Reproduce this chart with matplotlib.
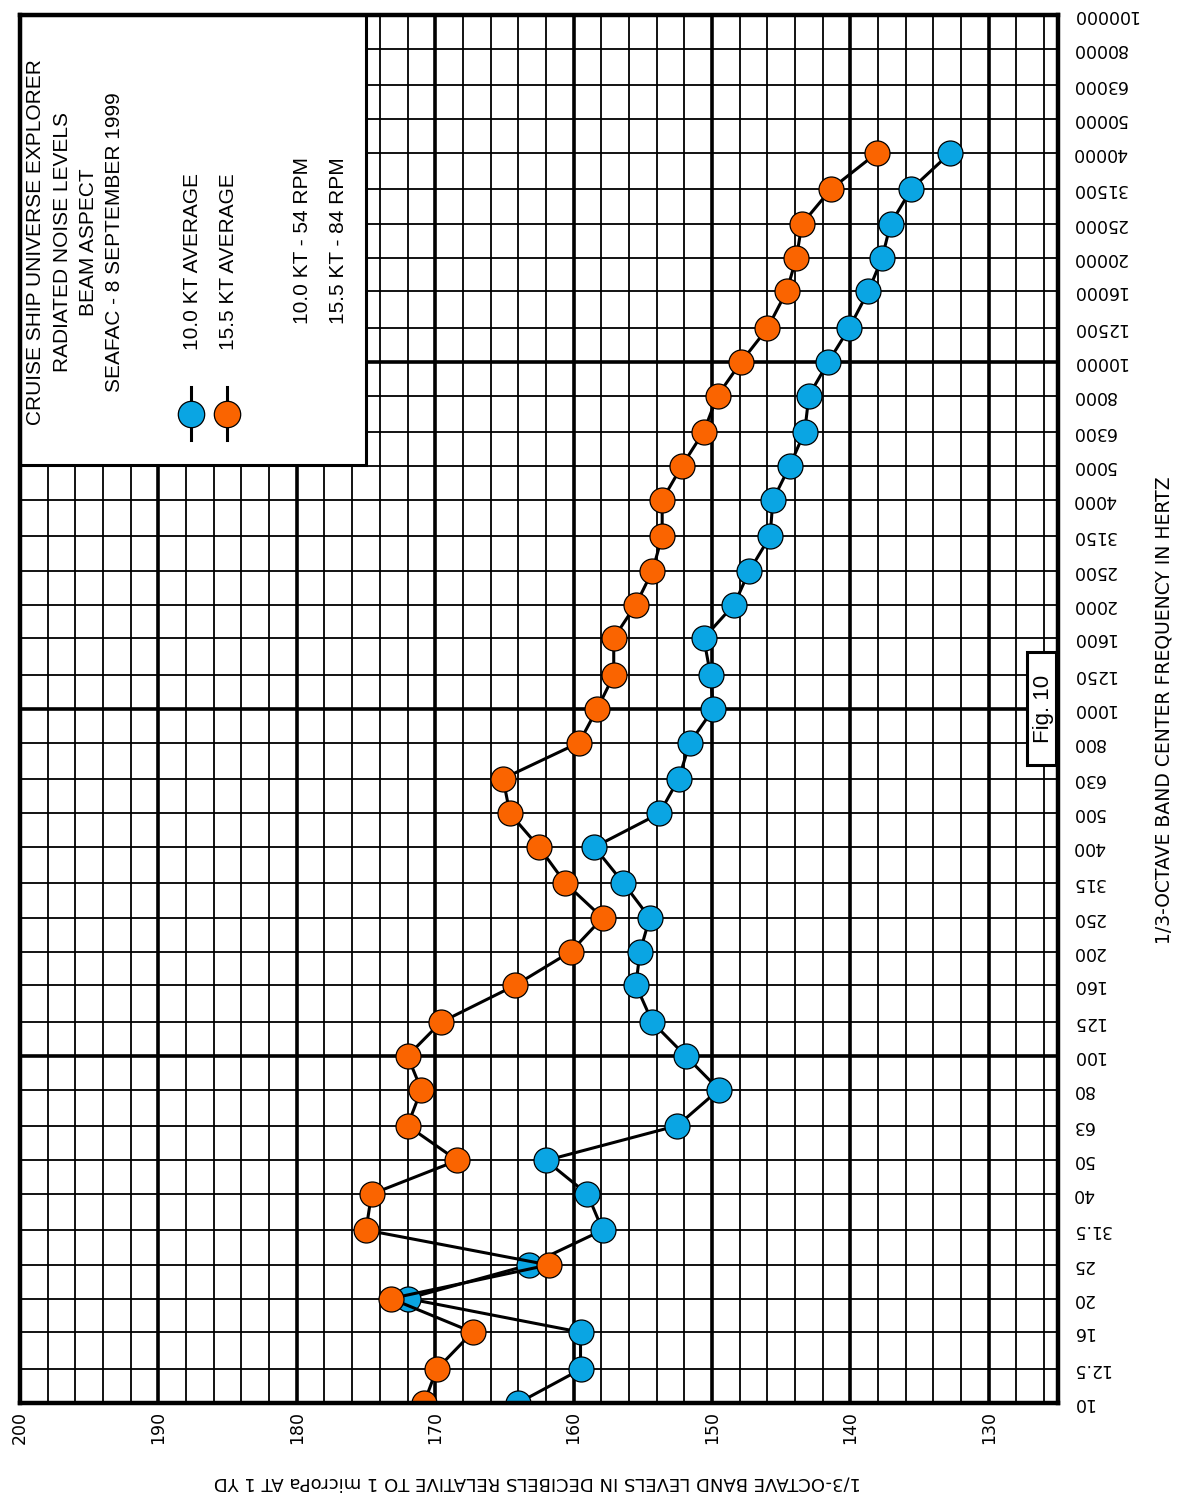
import matplotlib
matplotlib.use("Agg")
import matplotlib.pyplot as plt
from matplotlib.patches import Rectangle
from matplotlib.lines import Line2D

plt.rcParams['font.family'] = ['Liberation Sans', 'DejaVu Sans']

# 1/3-octave band centre frequencies (Hz)
band_labels = ['10', '12.5', '16', '20', '25', '31.5', '40', '50', '63', '80',
               '100', '125', '160', '200', '250', '315', '400', '500', '630', '800',
               '1000', '1250', '1600', '2000', '2500', '3150', '4000', '5000', '6300', '8000',
               '10000', '12500', '16000', '20000', '25000', '31500', '40000', '50000', '63000', '80000',
               '100000']
band_freqs = [float(s) for s in band_labels]

# Measured band levels, dB re 1 microPa at 1 yd (10 Hz ... 40 kHz)
level_10kt = [164.0, 159.5, 159.5, 172.0, 163.2, 157.9, 159.0, 162.0, 152.5, 149.5,
              151.9, 154.3, 155.5, 155.2, 154.5, 156.4, 158.5, 153.8, 152.4, 151.6,
              149.9, 150.1, 150.6, 148.4, 147.3, 145.8, 145.6, 144.4, 143.3, 143.0,
              141.6, 140.1, 138.7, 137.7, 137.1, 135.6, 132.8]
level_155kt = [170.8, 169.9, 167.3, 173.2, 161.8, 175.0, 174.6, 168.4, 172.0, 171.0,
               172.0, 169.6, 164.2, 160.2, 157.9, 160.6, 162.5, 164.6, 165.1, 159.6,
               158.3, 157.1, 157.1, 155.5, 154.3, 153.6, 153.6, 152.2, 150.6, 149.6,
               147.9, 146.0, 144.6, 143.9, 143.5, 141.4, 138.1]

db_ticks = [200, 190, 180, 170, 160, 150, 140, 130]

W, H = 1178, 1501
fig = plt.figure(figsize=(W / 100, H / 100), dpi=100)
ax = fig.add_axes([20 / W, (H - 1403) / H, 1038 / W, 1388 / H])


def fx(x):
    return x / W


def fy(y):
    return 1 - y / H


ax.set_xlim(200, 125)
ax.set_yscale('log')
ax.set_ylim(10, 100000)

# grid: every 2 dB / every band, heavy at 10 dB and at decades
for v in range(126, 200, 2):
    ax.axvline(v, color='black', lw=2.6 if v % 10 == 0 else 1.3, zorder=1)
for f in band_freqs[1:-1]:
    heavy = f in (100.0, 1000.0, 10000.0)
    ax.axhline(f, color='black', lw=2.6 if heavy else 1.3, zorder=1)

for s in ax.spines.values():
    s.set_linewidth(3.2)
    s.set_zorder(6)

tick_font = dict(family='DejaVu Sans', size=12.5)
ax.set_xticks(db_ticks)
ax.set_xticklabels([str(v) for v in db_ticks], rotation=90, fontdict=tick_font)
ax.tick_params(axis='x', length=0, pad=6)
ax.yaxis.tick_right()
ax.set_yticks(band_freqs)
ax.set_yticklabels(band_labels, fontdict=tick_font)
ax.yaxis.set_minor_locator(matplotlib.ticker.NullLocator())
ax.tick_params(axis='y', which='both', length=0, pad=10)
for t in ax.get_yticklabels():
    t.set_rotation(180)
    t.set_ha('left')
    t.set_va('center')

blue = '#0aa5e3'
orange = '#fa6400'
n = len(level_10kt)
ax.plot(level_10kt, band_freqs[:n], color='black', lw=2.2, marker='o', ms=18,
        mfc=blue, mec='black', mew=0.9, zorder=3)
ax.plot(level_155kt, band_freqs[:n], color='black', lw=2.2, marker='o', ms=18,
        mfc=orange, mec='black', mew=0.9, zorder=4)

# legend panel
ax.add_patch(Rectangle((0, (1403 - 465) / 1388), 346 / 1038, 450 / 1388,
                       transform=ax.transAxes, facecolor='white', edgecolor='black',
                       lw=2.2, zorder=5))

title_lines = [('CRUISE SHIP UNIVERSE EXPLORER', 36),
               ('RADIATED NOISE LEVELS', 63),
               ('BEAM ASPECT', 89),
               ('SEAFAC - 8 SEPTEMBER 1999', 115)]
for txt, x in title_lines:
    fig.text(fx(x), fy(242), txt, rotation=90, ha='center', va='center',
             fontsize=15, zorder=7)

for txt, x, ybot in [('10.0 KT AVERAGE', 193, 350), ('15.5 KT AVERAGE', 229, 350),
                     ('10.0 KT - 54 RPM', 303, 324), ('15.5 KT - 84 RPM', 338, 324)]:
    fig.text(fx(x), fy(ybot), txt, rotation=90, ha='center', va='bottom',
             fontsize=15, zorder=7)

for x, c in [(191, blue), (227, orange)]:
    fig.add_artist(Line2D([fx(x)] * 3, [fy(387), fy(414), fy(440)], color='black',
                          lw=2.2, marker='o', markevery=[1], ms=19, mfc=c,
                          mec='black', mew=0.9, zorder=8))

# figure tag
fig.add_artist(Rectangle((fx(1027), fy(765)), 29 / W, 113 / H, transform=fig.transFigure,
                         facecolor='white', edgecolor='black', lw=2.2, zorder=8))
fig.text(fx(1043), fy(709), 'Fig. 10', rotation=90, ha='center', va='center',
         fontsize=16, zorder=9)

fig.text(fx(537), fy(1483), '1/3-OCTAVE BAND LEVELS IN DECIBELS RELATIVE TO 1 microPa AT 1 YD',
         rotation=180, ha='center', va='center', family='DejaVu Sans', fontsize=13)
fig.text(fx(1164), fy(710), '1/3-OCTAVE BAND CENTER FREQUENCY IN HERTZ',
         rotation=90, ha='center', va='center', family='DejaVu Sans', fontsize=13.5)

fig.savefig('out.png', dpi=100)
